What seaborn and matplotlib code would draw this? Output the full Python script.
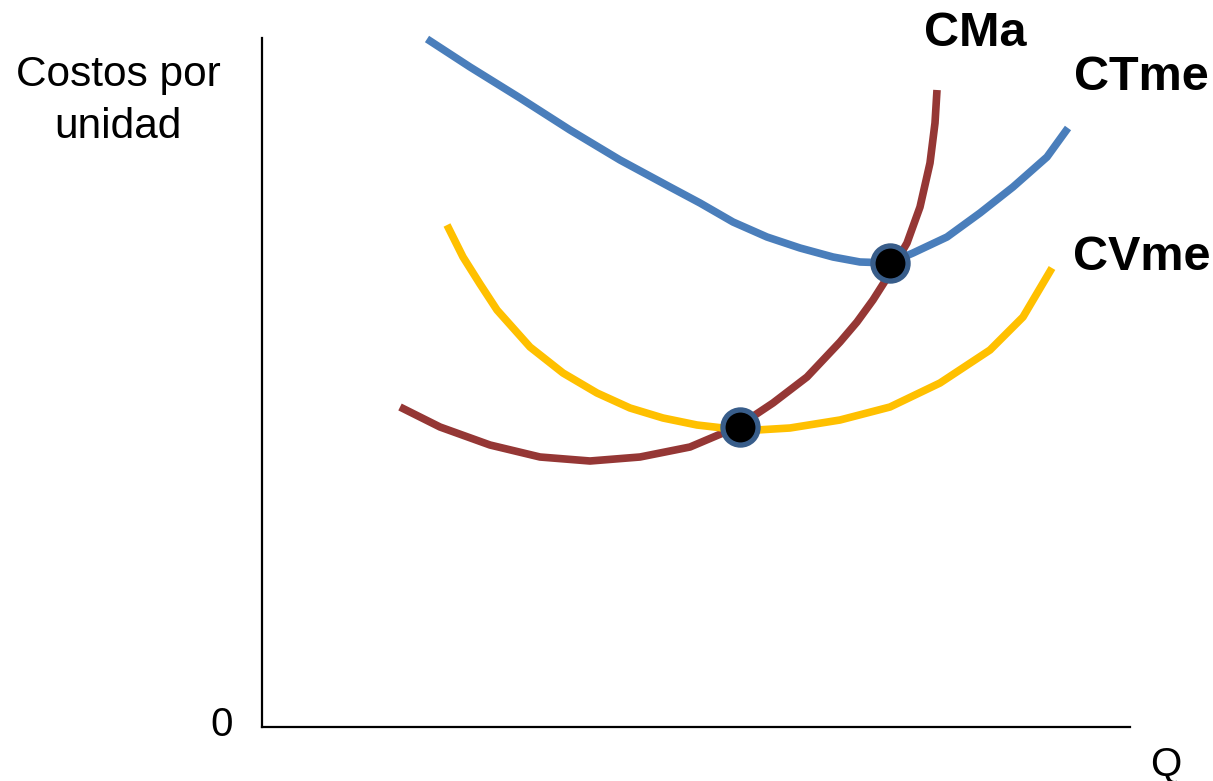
import numpy as np
import pandas as pd
import matplotlib.pyplot as plt
import seaborn as sns

# --------------------------------------------------
# THEME
# --------------------------------------------------
sns.set_theme(style="white")
plt.rcParams['font.family'] = ['Liberation Sans', 'DejaVu Sans']
plt.rcParams['text.color'] = 'black'

# --------------------------------------------------
# DATA (Q vs cost per unit)
# --------------------------------------------------
ctme_q = [16.5, 20.8, 25.8, 30.8, 35.8, 40.8, 43.8, 47.1, 50.5, 53.8, 57.1, 59.8,
          62.8, 65.1, 68.5, 71.8, 75.1, 78.5, 80.6]
ctme_c = [68.8, 66.0, 62.9, 59.7, 56.7, 54.0, 52.4, 50.5, 49.0, 47.9, 47.0, 46.5,
          46.4, 47.4, 49.0, 51.4, 54.0, 57.0, 59.9]

cma_q = [13.8, 17.8, 22.8, 27.8, 32.8, 37.8, 42.8, 46.1, 47.8, 51.1, 54.5, 57.8,
         59.5, 61.1, 62.5, 63.4, 64.5, 65.8, 66.8, 67.3, 67.5]
cma_c = [32.0, 30.0, 28.2, 27.0, 26.6, 27.0, 28.0, 29.4, 30.2, 32.4, 35.0, 38.5,
         40.5, 42.7, 44.9, 46.5, 48.4, 52.0, 56.4, 60.4, 63.7]

cvme_q = [18.5, 20.1, 21.8, 23.5, 26.8, 30.1, 33.5, 36.8, 40.1, 43.5, 46.1, 47.8, 49.5,
          52.8, 57.8, 62.8, 67.8, 72.8, 76.1, 79.0]
cvme_c = [50.2, 47.0, 44.3, 41.7, 38.0, 35.4, 33.4, 31.9, 30.9, 30.2, 29.9, 29.8, 29.7,
          29.9, 30.7, 32.0, 34.4, 37.7, 41.0, 45.9]

# intersection points (minimum of CVme and CTme)
dots_q = [47.8, 62.8]
dots_c = [30.0, 46.4]

curve_labels = ['CMa', 'CTme', 'CVme']


# --------------------------------------------------
# PLOT
# --------------------------------------------------
def create_chart():
    fig = plt.figure(figsize=(12.13, 7.81), dpi=100)
    ax = fig.add_axes([262 / 1213, 54 / 781, 868 / 1213, 689 / 781])

    curves = pd.concat([
        pd.DataFrame({'Q': ctme_q, 'C': ctme_c, 'curva': 'CTme'}),
        pd.DataFrame({'Q': cma_q, 'C': cma_c, 'curva': 'CMa'}),
        pd.DataFrame({'Q': cvme_q, 'C': cvme_c, 'curva': 'CVme'}),
    ])
    palette = {'CTme': '#4A7EBB', 'CMa': '#953735', 'CVme': '#FFC000'}
    sns.lineplot(data=curves, x='Q', y='C', hue='curva', palette=palette,
                 estimator=None, sort=False, legend=False, ax=ax)
    # make the cost curves thick like the original
    for line in ax.lines:
        line.set_linewidth(5.5)
        line.set_solid_joinstyle('round')
        line.set_solid_capstyle('butt')
        line.set_clip_on(False)

    sns.scatterplot(x=dots_q, y=dots_c, ax=ax, s=640, color='black',
                    edgecolor='#385D8A', linewidth=3.8, zorder=5, clip_on=False)

    ax.set_xlim(0, 86.8)
    ax.set_ylim(0, 68.9)
    ax.set_xticks([])
    ax.set_yticks([])
    ax.set_xlabel('')
    ax.set_ylabel('')
    for side in ['top', 'right']:
        ax.spines[side].set_visible(False)
    for side in ['left', 'bottom']:
        ax.spines[side].set_color('black')
        ax.spines[side].set_linewidth(1.6)

    # curve labels
    label_pos = [(975, 33), (1141, 78), (1142, 258)]
    for name, (px, py) in zip(curve_labels, label_pos):
        fig.text(px / 1213, 1 - py / 781, name, fontsize=35, fontweight='bold',
                 ha='center', va='center', color='black')

    # axis texts
    fig.text(118 / 1213, 1 - 101 / 781, 'Costos por\nunidad', fontsize=30.5,
             ha='center', va='center', linespacing=1.37, color='black')
    fig.text(222 / 1213, 1 - 725 / 781, '0', fontsize=29, ha='center', va='center',
             color='black')
    fig.text(1166 / 1213, 1 - 764 / 781, 'Q', fontsize=29, ha='center', va='center',
             color='black')

    plt.savefig('out.png', dpi=100)


if __name__ == "__main__":
    create_chart()
